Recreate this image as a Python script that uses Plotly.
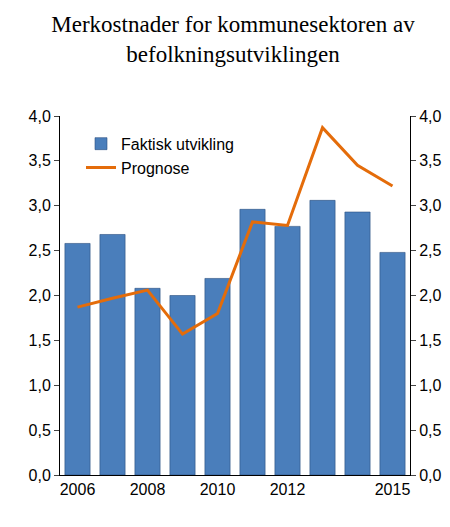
import plotly.graph_objects as go

years = [2006, 2007, 2008, 2009, 2010, 2011, 2012, 2013, 2014, 2015]
faktisk = [2.58, 2.68, 2.08, 2.00, 2.19, 2.96, 2.77, 3.06, 2.93, 2.48]
prognose = [1.87, 1.97, 2.06, 1.57, 1.80, 2.82, 2.78, 3.87, 3.45, 3.22]
tick_years = [2006, 2008, 2010, 2012, 2015]
y_ticks = [0, 0.5, 1, 1.5, 2, 2.5, 3, 3.5, 4]

fig = go.Figure()
fig.add_trace(go.Bar(x=years, y=faktisk, name='Faktisk utvikling',
                     marker=dict(color='#4a7ebb', line=dict(color='#2a4f80', width=0.6)),
                     width=0.72))
fig.add_trace(go.Scatter(x=years, y=prognose, name='Prognose', mode='lines',
                         line=dict(color='#e46c0a', width=3)))
fig.add_trace(go.Scatter(x=years, y=prognose, yaxis='y2', showlegend=False,
                         mode='lines', line=dict(width=0), hoverinfo='skip'))

axis_font = dict(family='Liberation Sans, Arial', size=16, color='black')
fig.update_layout(
    width=450, height=527,
    separators=', ',
    plot_bgcolor='white', paper_bgcolor='white',
    title=dict(text='Merkostnader for kommunesektoren av<br>befolkningsutviklingen',
               x=0.5, xanchor='center', y=0.955, yanchor='top',
               font=dict(family='Liberation Serif, Times New Roman', size=23, color='black')),
    margin=dict(l=52, r=48, t=108, b=60),
    xaxis=dict(tickvals=tick_years, range=[2005.5, 2015.5], showgrid=False,
               showline=True, linecolor='black', ticks='', tickfont=axis_font),
    yaxis=dict(range=[0, 4], tickvals=y_ticks, tickformat='.1f', showgrid=False,
               showline=True, linecolor='black', ticks='outside', ticklen=5,
               tickfont=axis_font),
    yaxis2=dict(range=[0, 4], tickvals=y_ticks, tickformat='.1f', overlaying='y',
                side='right', showgrid=False, showline=True, linecolor='black',
                ticks='outside', ticklen=5, tickfont=axis_font),
    legend=dict(x=0.06, y=0.97, xanchor='left', yanchor='top', tracegroupgap=10,
                font=dict(family='Liberation Sans, Arial', size=16, color='black'),
                bgcolor='rgba(0,0,0,0)'),
    showlegend=True,
)
fig.write_html('out.html')
